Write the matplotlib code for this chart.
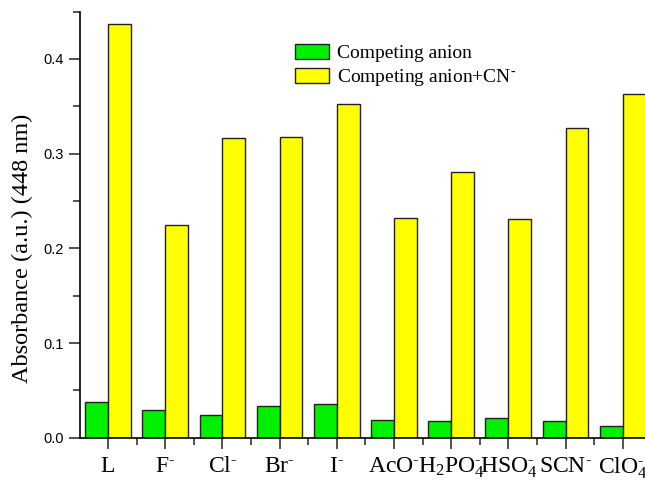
import numpy as np
import matplotlib
matplotlib.use('Agg')
import matplotlib.pyplot as plt
from matplotlib.ticker import MultipleLocator

# 数据
anions = ['L', r'$\mathrm{F}^{\text{-}}$', r'$\mathrm{Cl}^{\text{-}}$', r'$\mathrm{Br}^{\text{-}}$',
          r'$\mathrm{I}^{\text{-}}$', r'$\mathrm{AcO}^{\text{-}}$', r'$\mathrm{H_2PO_4^{\text{-}}}$',
          r'$\mathrm{HSO_4^{\text{-}}}$', r'$\mathrm{SCN}^{\text{-}}$', r'$\mathrm{ClO_4^{\text{-}}}$']
anion_only = [0.038, 0.029, 0.024, 0.0335, 0.0355, 0.0187, 0.0177, 0.021, 0.018, 0.0125]
anion_cn = [0.437, 0.225, 0.316, 0.317, 0.352, 0.232, 0.281, 0.231, 0.327, 0.363]

plt.rcParams['mathtext.fontset'] = 'custom'
plt.rcParams['mathtext.rm'] = 'Liberation Serif'
plt.rcParams['mathtext.it'] = 'Liberation Serif:italic'
plt.rcParams['font.family'] = 'Liberation Serif'

fig = plt.figure(figsize=(6.45, 4.8), dpi=100)
ax = fig.add_axes([0.124, 0.088, 0.876, 0.888])

x = np.arange(len(anions))
w = 0.4
ax.bar(x - w / 2, anion_only, w, color='#00F000', edgecolor='#222222', linewidth=1.0,
       label='Competing anion')
ax.bar(x + w / 2, anion_cn, w, color='#FFFF00', edgecolor='#222222', linewidth=1.0,
       label=r'Competing anion+CN$^{\text{-}}$')

ax.set_xlim(-0.49, 9.39)
ax.set_ylim(0, 0.45)
ax.set_xticks(x)
ax.set_xticklabels(anions, fontsize=17)
ax.xaxis.set_minor_locator(MultipleLocator(1, offset=0.5))
ax.yaxis.set_major_locator(MultipleLocator(0.1))
ax.yaxis.set_minor_locator(MultipleLocator(0.05))
for lab in ax.get_yticklabels():
    lab.set_family('Liberation Sans')
    lab.set_fontsize(10.5)
ax.tick_params(axis='both', which='major', direction='out', length=8, width=1.2, color='#333333')
ax.tick_params(axis='both', which='minor', direction='out', length=5, width=1.2, color='#333333')
ax.tick_params(axis='x', pad=5)

ax.spines['top'].set_visible(False)
ax.spines['right'].set_visible(False)
ax.spines['left'].set_linewidth(1.2)
ax.spines['bottom'].set_linewidth(1.2)

ax.set_ylabel('Absorbance (a.u.) (448 nm)', fontsize=17.5)
ax.yaxis.set_label_coords(-0.083, 0.445)

ax.legend(loc='upper left', bbox_to_anchor=(0.445, 0.925), bbox_transform=fig.transFigure,
          frameon=False, fontsize=14, handlelength=1.75, handleheight=0.8,
          handletextpad=0.4, labelspacing=0.25, borderaxespad=0)

plt.savefig('out.png', dpi=100)
